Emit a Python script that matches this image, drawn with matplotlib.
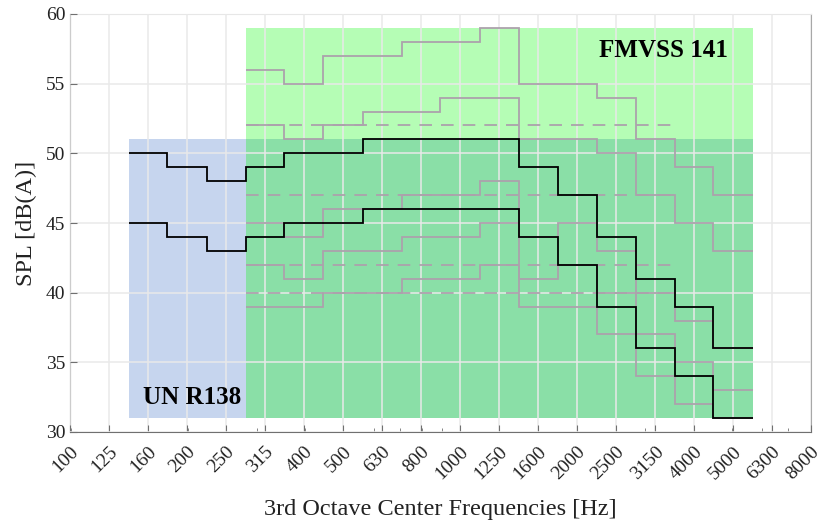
import numpy as np
import matplotlib
matplotlib.use("Agg")
import matplotlib.pyplot as plt
from matplotlib.patches import Rectangle
from matplotlib.ticker import FixedLocator, LogLocator, NullFormatter
from matplotlib.transforms import ScaledTranslation

plt.rcParams['font.family'] = ['Liberation Serif', 'DejaVu Serif']

# 1/3 octave tick labels
tick_labels = ["100", "125", "160", "200", "250", "315", "400", "500", "630", "800",
               "1000", "1250", "1600", "2000", "2500", "3150", "4000", "5000", "6300", "8000"]
tick_n = np.arange(-10, 10)  # band index relative to 1 kHz

# UN R138 bands 160..5000 Hz
un_n = np.arange(-8, 8)
un_upper = [50, 49, 48, 49, 50, 50, 51, 51, 51, 51, 49, 47, 44, 41, 39, 36]
un_lower = [45, 44, 43, 44, 45, 45, 46, 46, 46, 46, 44, 42, 39, 36, 34, 31]

# FMVSS 141 bands 315..5000 Hz
fm_n = np.arange(-5, 8)
fm_30kmh = [56, 55, 57, 57, 58, 58, 59, 55, 55, 54, 51, 49, 47]
fm_20kmh = [52, 51, 52, 53, 53, 54, 54, 51, 51, 50, 47, 45, 43]
fm_10kmh = [45, 44, 46, 46, 47, 47, 48, 44, 45, 43, 40, 38, 36]
fm_reverse = [42, 41, 43, 43, 44, 44, 45, 41, 42, 40, 37, 35, 33]
fm_stationary = [39, 39, 40, 40, 41, 41, 42, 39, 39, 37, 34, 32, 31]

# dashed levels, 315..3150 Hz
dash_n = np.arange(-5, 6)
dash_levels = [52, 47, 42, 40]

# regions [first band, last band, low dB, high dB]
un_region = (-8, 7, 31, 51)
fm_region = (-5, 7, 31, 59)


def centers(n):
    return 1000.0 * 2.0 ** (np.asarray(n) / 3.0)


def edges(n):
    n = np.asarray(n)
    return 1000.0 * 2.0 ** (np.append(n - 0.5, n[-1] + 0.5) / 3.0)


fig = plt.figure(figsize=(8.24, 5.22), dpi=100)
ax = fig.add_axes([70 / 824, 90 / 522, 741 / 824, 418 / 522])
ax.set_xscale('log')
ax.set_xlim(100, 8000)
ax.set_ylim(30, 60)

c_blue = '#c6d5ee'
c_green = '#b5fdb5'
c_both = '#8adfa7'

# shaded regions
ux = edges(np.arange(un_region[0], un_region[1] + 1))
fx = edges(np.arange(fm_region[0], fm_region[1] + 1))
ax.add_patch(Rectangle((ux[0], un_region[2]), ux[-1] - ux[0], un_region[3] - un_region[2],
                       facecolor=c_blue, edgecolor='none', zorder=1))
ax.add_patch(Rectangle((fx[0], fm_region[2]), fx[-1] - fx[0], fm_region[3] - fm_region[2],
                       facecolor=c_green, edgecolor='none', zorder=1))
ox0, ox1 = max(ux[0], fx[0]), min(ux[-1], fx[-1])
oy0, oy1 = max(un_region[2], fm_region[2]), min(un_region[3], fm_region[3])
ax.add_patch(Rectangle((ox0, oy0), ox1 - ox0, oy1 - oy0,
                       facecolor=c_both, edgecolor='none', zorder=1))

# grid on top of regions
ax.xaxis.set_major_locator(FixedLocator(centers(tick_n)))
ax.xaxis.set_minor_locator(LogLocator(base=10, subs=np.arange(1, 10)))
ax.xaxis.set_minor_formatter(NullFormatter())
ax.set_xticks(centers(tick_n))
ax.set_xticklabels(tick_labels, rotation=45, ha='right', va='top', rotation_mode='anchor')
shift = ScaledTranslation(4 / 72, 0, fig.dpi_scale_trans)
for lab in ax.get_xticklabels():
    lab.set_transform(lab.get_transform() + shift)
ax.set_yticks(np.arange(30, 61, 5))
ax.grid(True, which='major', color='#e9e9e9', linewidth=1.1, zorder=2)
ax.set_axisbelow(False)
for gl in ax.get_xgridlines() + ax.get_ygridlines():
    gl.set_zorder(2)

gray = '#aca2ac'
for vals in [fm_30kmh, fm_20kmh, fm_10kmh, fm_reverse, fm_stationary]:
    ax.stairs(vals, edges(fm_n), baseline=None, color=gray, linewidth=1.3, zorder=3)
for lev in dash_levels:
    ax.stairs([lev] * len(dash_n), edges(dash_n), baseline=None, color=gray,
              linewidth=1.3, linestyle=(0, (7, 5)), zorder=3)
for vals in [un_upper, un_lower]:
    ax.stairs(vals, edges(un_n), baseline=None, color='black', linewidth=1.3, zorder=4)

ax.text(4900, 57.35, "FMVSS 141", ha='right', va='center', fontsize=18,
        fontweight='bold', zorder=5)
ax.text(153, 32.5, "UN R138", ha='left', va='center', fontsize=18,
        fontweight='bold', zorder=5)

for s in ['left', 'bottom']:
    ax.spines[s].set_color('#707070')
ax.spines['right'].set_color('#a8a8a8')
ax.spines['top'].set_color('#e4e4e4')
ax.tick_params(axis='both', which='major', direction='in', length=5, color='#707070',
               labelsize=14, labelcolor='#222222')
ax.tick_params(axis='x', which='minor', direction='in', length=3, color='#707070')
ax.tick_params(axis='x', which='major', pad=8)

ax.set_xlabel("3rd Octave Center Frequencies [Hz]", fontsize=17.5, color='#222222', labelpad=12)
ax.set_ylabel("SPL [dB(A)]", fontsize=17.5, color='#222222', labelpad=6)

fig.savefig("out.png", dpi=100)
